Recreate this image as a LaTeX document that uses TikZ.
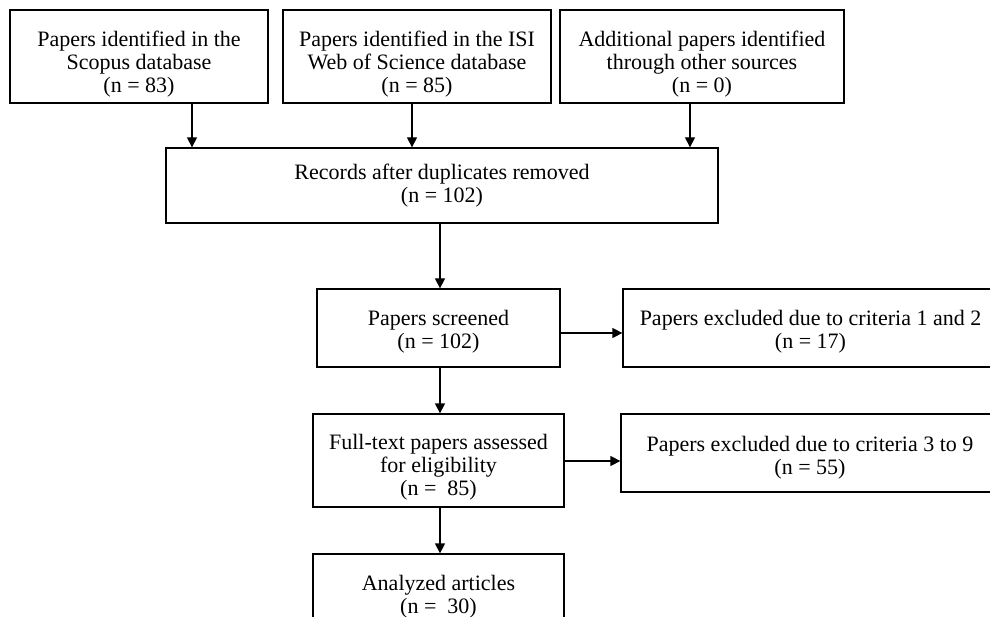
\documentclass[tikz,border=0pt]{standalone}
\usepackage{fontspec}
\setmainfont{Liberation Serif}
\usetikzlibrary{arrows.meta}
\newcommand{\dnshift}[1]{\rule{0pt}{\dimexpr 16pt+#1pt*2\relax}}
\begin{document}
\begin{tikzpicture}[x=1pt,y=-1pt,
  box/.style={draw,line width=1.3pt,rectangle,align=center,inner sep=0pt,
    font=\fontsize{22}{23}\selectfont},
  arr/.style={line width=1.3pt,-{Triangle[length=10pt,width=10pt]}}]
\useasboundingbox (0,0) rectangle (990,617);
\clip (0,0) rectangle (990,617);
\node[box,minimum width=258pt,minimum height=93pt] (b1) at (139,56.5)
  {\dnshift{7}Papers identified in the\\Scopus database\\(n = 83)};
\node[box,minimum width=268pt,minimum height=93pt] (b2) at (417,56.5)
  {\dnshift{7}Papers identified in the ISI\\Web of Science database\\(n = 85)};
\node[box,minimum width=284pt,minimum height=93pt] (b3) at (702,56.5)
  {\dnshift{7}Additional papers identified\\through other sources\\(n = 0)};
\node[box,minimum width=552pt,minimum height=75pt] (rec) at (442,185.5)
  {Records after duplicates removed\\(n = 102)};
\node[box,minimum width=243pt,minimum height=78pt] (scr) at (438.5,328)
  {\dnshift{3}Papers screened\\(n = 102)};
\node[box,minimum width=375pt,minimum height=78pt] (ex1) at (810.5,328)
  {\dnshift{3}Papers excluded due to criteria 1 and 2\\(n = 17)};
\node[box,minimum width=251pt,minimum height=93pt] (ft) at (438.5,460.5)
  {\dnshift{6}Full-text papers assessed\\for eligibility\\(n = \ 85)};
\node[box,minimum width=378pt,minimum height=78pt] (ex2) at (810,453)
  {\dnshift{4}Papers excluded due to criteria 3 to 9\\(n = 55)};
\node[box,minimum width=251pt,minimum height=81pt] (an) at (438.5,594.5)
  {\dnshift{2}Analyzed articles\\(n = \ 30)};
\coordinate (x1) at (192,0);
\coordinate (x2) at (412,0);
\coordinate (x3) at (690,0);
\coordinate (x4) at (440,0);
\coordinate (y1) at (0,333);
\coordinate (y2) at (0,461);
\draw[arr] (b1.south -| x1) -- (rec.north -| x1);
\draw[arr] (b2.south -| x2) -- (rec.north -| x2);
\draw[arr] (b3.south -| x3) -- (rec.north -| x3);
\draw[arr] (rec.south -| x4) -- (scr.north -| x4);
\draw[arr] (scr.east |- y1) -- (ex1.west |- y1);
\draw[arr] (scr.south -| x4) -- (ft.north -| x4);
\draw[arr] (ft.east |- y2) -- (ex2.west |- y2);
\draw[arr] (ft.south -| x4) -- (an.north -| x4);
\end{tikzpicture}
\end{document}
